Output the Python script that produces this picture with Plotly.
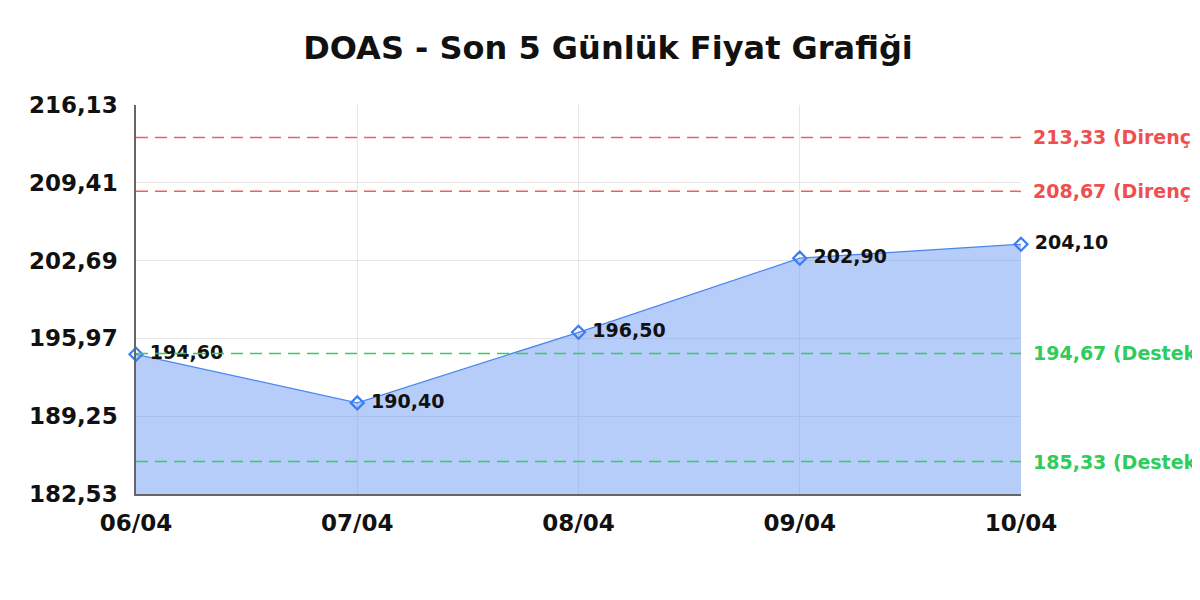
import plotly.graph_objects as go

dates = ["06/04", "07/04", "08/04", "09/04", "10/04"]
prices = [194.60, 190.40, 196.50, 202.90, 204.10]
resistance = [213.33, 208.67]
support = [194.67, 185.33]
y_ticks = [182.53, 189.25, 195.97, 202.69, 209.41, 216.13]

FONT = "DejaVu Sans"


def tr(v):
    return f"{v:.2f}".replace(".", ",")


fig = go.Figure()

fig.add_trace(go.Scatter(
    x=dates,
    y=prices,
    mode="lines+markers+text",
    fill="tozeroy",
    fillcolor="rgba(100,150,240,0.48)",
    line=dict(color="#4a86f0", width=1.3),
    marker=dict(symbol="diamond-open", size=10, color="#3b7cf0", line=dict(width=2.2)),
    text=[" " + tr(p) for p in prices],
    textposition="middle right",
    textfont=dict(family=FONT, size=19, color="#111111", weight="bold"),
    cliponaxis=False,
    hoverinfo="skip",
))

for lvl in resistance:
    fig.add_hline(y=lvl, line=dict(color="#f06060", width=1.5, dash="12px,7px"))
    fig.add_annotation(x=1, xref="paper", y=lvl, yref="y", xanchor="left", xshift=10,
                       text=f"{tr(lvl)} (Direnç)", showarrow=False,
                       font=dict(family=FONT, size=19, color="#ef4f4f", weight="bold"))
for lvl in support:
    fig.add_hline(y=lvl, line=dict(color="#35cc60", width=1.5, dash="12px,7px"))
    fig.add_annotation(x=1, xref="paper", y=lvl, yref="y", xanchor="left", xshift=10,
                       text=f"{tr(lvl)} (Destek)", showarrow=False,
                       font=dict(family=FONT, size=19, color="#2ecc5a", weight="bold"))

fig.update_layout(
    width=1200, height=600,
    title=dict(text="<b>DOAS - Son 5 Günlük Fiyat Grafiği</b>", x=0.5, xanchor="center",
               y=0.933, yanchor="middle",
               font=dict(family=FONT, size=32, color="#111111")),
    margin=dict(l=128, r=187, t=97, b=114),
    plot_bgcolor="white",
    paper_bgcolor="white",
    showlegend=False,
    font=dict(family=FONT),
)
fig.update_xaxes(
    type="category", range=[0, 4], showgrid=True, gridcolor="#e6e6e6",
    showline=True, linecolor="#666666", linewidth=1.5, ticks="",
    ticklabelstandoff=8,
    tickfont=dict(family=FONT, size=23, color="#111111", weight="bold"),
)
fig.update_yaxes(
    range=[y_ticks[0], y_ticks[-1]], tickvals=y_ticks, ticktext=[tr(v) for v in y_ticks],
    showgrid=True, gridcolor="#e6e6e6", zeroline=False,
    showline=True, linecolor="#666666", linewidth=1.5, ticks="",
    ticklabelstandoff=12,
    tickfont=dict(family=FONT, size=23, color="#111111", weight="bold"),
)

fig.write_html("out.html")
